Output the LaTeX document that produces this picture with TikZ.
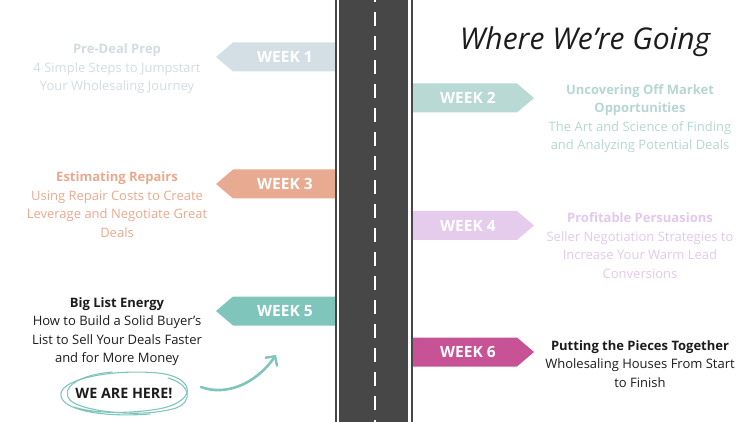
\documentclass[tikz,border=0pt]{standalone}
\usepackage{fontspec}
\setmainfont{Open Sans}
\usetikzlibrary{arrows.meta,positioning}
\definecolor{roadgrey}{HTML}{474747}
\definecolor{wkone}{HTML}{D3DFE5}
\definecolor{wkonetxt}{HTML}{D2DCE2}
\definecolor{wktwo}{HTML}{B8D9D4}
\definecolor{wktwotxt}{HTML}{B6D6D1}
\definecolor{wkthree}{HTML}{E8AB92}
\definecolor{wkthreetxt}{HTML}{E9A98F}
\definecolor{wkfour}{HTML}{E5CBEC}
\definecolor{wkfourtxt}{HTML}{E4C8EC}
\definecolor{wkfive}{HTML}{7FC5BB}
\definecolor{wksix}{HTML}{C75295}
\definecolor{inktxt}{HTML}{1C1C1C}

\begin{document}
\begin{tikzpicture}[x=1pt, y=-1pt,
      tag/.style={text=white, font=\fontsize{15.5}{15.5}\selectfont\bfseries},
      blurb/.style={align=center, inner sep=0pt,
                    font=\fontsize{13}{18.5}\selectfont},
      scribble/.style={wkfive, line width=1.1pt, line cap=round},
      arr/.style={-{Straight Barb[length=7pt, width=15pt, line width=2.4pt]},
                  wkfive, line width=2.6pt, line cap=round}
    ]
    \useasboundingbox (0,0) rectangle (750,422);

    % week tags, left side point left, right side point right
    \fill[wkone] (336,42.5) -- (233,42.5) -- (216,57) -- (233,71.5) -- (336,71.5) -- cycle;
    \fill[wkthree] (336,169.5) -- (233,169.5) -- (216,184) -- (233,198.5) -- (336,198.5) -- cycle;
    \fill[wkfive] (336,296.5) -- (233,296.5) -- (216,311) -- (233,325.5) -- (336,325.5) -- cycle;
    \fill[wktwo] (412,83.5) -- (517,83.5) -- (534,98) -- (517,112.5) -- (412,112.5) -- cycle;
    \fill[wkfour] (412,211) -- (517,211) -- (534,225.5) -- (517,240) -- (412,240) -- cycle;
    \fill[wksix] (412,337.5) -- (517,337.5) -- (534,352) -- (517,366.5) -- (412,366.5) -- cycle;

    \node[tag] (wk1) at (285,57) {WEEK 1};
    \node[tag] (wk3) at (285,184) {WEEK 3};
    \node[tag] (wk5) at (285,311) {WEEK 5};
    \node[tag] (wk2) at (468,98) {WEEK 2};
    \node[tag] (wk4) at (468,225.5) {WEEK 4};
    \node[tag] (wk6) at (468,352) {WEEK 6};

    % the road
    \fill[roadgrey] (335,0) rectangle (413.3,422);
    \fill[white] (336.7,0) rectangle (339,422);
    \fill[white] (408.3,0) rectangle (410.7,422);
    \draw[white, line width=2.2pt, dash pattern=on 13.5pt off 10.5pt]
      (375,-11.7) -- (375,422);

    % headline
    \node[font=\fontsize{30}{30}\selectfont\rmfamily\itshape, text=inktxt] (head)
      at (585,42) {Where We're Going};

    % what each week covers
    \node[blurb, text=wkonetxt] (prep) at (117,69)
      {\textbf{Pre-Deal Prep}\\4 Simple Steps to Jumpstart\\Your Wholesaling Journey};
    \node[blurb, text=wktwotxt] (offmkt) at (640,118.5)
      {\textbf{Uncovering Off Market}\\\textbf{Opportunities}\\The Art and Science of Finding\\and Analyzing Potential Deals};
    \node[blurb, text=wkthreetxt] (repairs) at (117,204.5)
      {\textbf{Estimating Repairs}\\Using Repair Costs to Create\\Leverage and Negotiate Great\\Deals};
    \node[blurb, text=wkfourtxt] (persuade) at (640,245.5)
      {\textbf{Profitable Persuasions}\\Seller Negotiation Strategies to\\Increase Your Warm Lead\\Conversions};
    \node[blurb, text=inktxt] (buyers) at (117,331.5)
      {\textbf{Big List Energy}\\How to Build a Solid Buyer's\\List to Sell Your Deals Faster\\and for More Money};
    \node[blurb, text=inktxt] (pieces) at (640,364)
      {\textbf{Putting the Pieces Together}\\Wholesaling Houses From Start\\to Finish};

    % you are here
    \node[font=\fontsize{14.3}{14.3}\selectfont\bfseries, text=inktxt] (here)
      at (124,393) {WE ARE HERE!};
    \draw[scribble] (150,414) .. controls (95,418) and (58,408) .. (61,393)
      .. controls (64,378) and (115,369) .. (158,373)
      .. controls (197,377) and (199,404) .. (152,410)
      .. controls (122,414) and (92,413) .. (74,407);
    \draw[scribble] (112,372) .. controls (78,375) and (60,388) .. (70,400)
      .. controls (80,411) and (140,419) .. (176,408)
      .. controls (194,401) and (190,384) .. (168,378);
    \coordinate (tip) at (276,355);
    \draw[arr] (201,387) .. controls (225,396) and (255,385) .. (tip);
  \end{tikzpicture}
\end{document}
